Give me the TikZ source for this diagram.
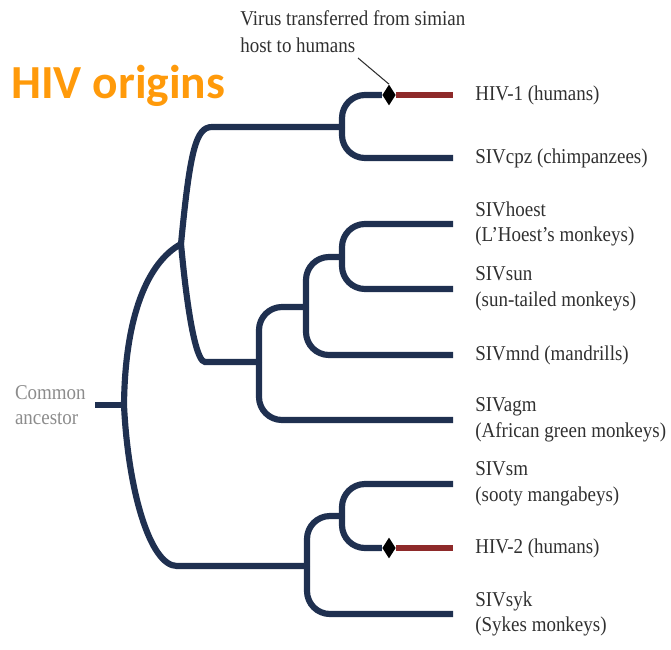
\documentclass[tikz,border=0pt]{standalone}
\usepackage{fontspec}
\setmainfont{Liberation Serif}[FakeStretch=0.9]
\newfontfamily\headfont{Carlito}
\usepackage{xcolor}
\usetikzlibrary{positioning,shapes.geometric}
\definecolor{treeblue}{HTML}{1F3050}
\definecolor{humanred}{HTML}{8E2A2A}
\definecolor{headorange}{HTML}{FF9A0A}
\definecolor{labelgray}{HTML}{303030}
\definecolor{rootgray}{HTML}{8C8C8C}
\tikzset{branch/.style={treeblue,line width=3.5pt,rounded corners=0.46cm},
  human/.style={humanred,line width=3.3pt},
  jump/.style={diamond,fill=black,inner sep=0pt,minimum width=0.27cm,minimum height=0.42cm},
  leaf/.style={labelgray,inner sep=0pt,align=left,font=\fontsize{12}{14.5}\selectfont},
  pointer/.style={labelgray,line width=0.6pt}}

\begin{document}
\begin{tikzpicture}[x=0.02cm,y=-0.02cm]
\useasboundingbox (0,0) rectangle (671,649);
\coordinate (stub) at (95,405); \coordinate (root) at (124,405); \coordinate (A) at (181,244);
\coordinate (C) at (342,127); \coordinate (D) at (259,362); \coordinate (E) at (306,307);
\coordinate (F) at (342,257); \coordinate (G) at (307,566); \coordinate (H) at (342,516);
\coordinate (t1) at (453,95); \coordinate (t2) at (453,158); \coordinate (t3) at (453,224);
\coordinate (t4) at (453,289); \coordinate (t5) at (453,355); \coordinate (t6) at (453,420);
\coordinate (t7) at (453,484); \coordinate (t8) at (453,548); \coordinate (t9) at (453,614);
\node[jump] (j1) at (389,95) {}; \node[jump] (j2) at (389,548) {};
\draw[branch] (stub) -- (root);
\draw[branch] (root) .. controls (125,315) and (148,262) .. (A);
\draw[branch] (root) .. controls (128,490) and (150,566) .. (200,566) -- (G);
\draw[branch] (A) .. controls (190,150) and (196,127) .. (235,127) -- (C);
\draw[branch] (A) .. controls (189,330) and (198,362) .. (228,362) -- (D);
\draw[branch] (C) |- (j1); \draw[human] (j1) -- (t1); \draw[branch] (C) |- (t2);
\draw[branch] (D) |- (E); \draw[branch] (D) |- (t6);
\draw[branch] (E) |- (F); \draw[branch] (E) |- (t5);
\draw[branch] (F) |- (t3); \draw[branch] (F) |- (t4);
\draw[branch] (G) |- (H); \draw[branch] (G) |- (t9);
\draw[branch] (H) |- (t7); \draw[branch] (H) |- (j2); \draw[human] (j2) -- (t8);
\node[leaf,right=0.44cm of t1] (hiv1) {HIV-1 (humans)};
\node[leaf,right=0.44cm of t2] (cpz) {SIVcpz (chimpanzees)};
\node[leaf,right=0.44cm of t3] (hoest) {SIVhoest\\(L’Hoest’s monkeys)};
\node[leaf,right=0.44cm of t4] (sun) {SIVsun\\(sun-tailed monkeys)};
\node[leaf,right=0.44cm of t5] (mnd) {SIVmnd (mandrills)};
\node[leaf,right=0.44cm of t6] (agm) {SIVagm\\(African green monkeys)};
\node[leaf,right=0.44cm of t7] (sm) {SIVsm\\(sooty mangabeys)};
\node[leaf,right=0.44cm of t8] (hiv2) {HIV-2 (humans)};
\node[leaf,right=0.44cm of t9] (syk) {SIVsyk\\(Sykes monkeys)};
\node[leaf,rootgray,left=0.18cm of stub] (anc) {Common\\ancestor};
\node[headorange,inner sep=0pt,anchor=base west,font=\headfont\bfseries\fontsize{27}{30}\selectfont] (title) at (11,98) {HIV origins};
\node[leaf,anchor=north west,font=\fontsize{12}{15.4}\selectfont] (note) at (240,10) {Virus transferred from simian\\host to humans};
\coordinate (notetail) at (358,58);
\draw[pointer] (notetail) -- (j1.north);
\end{tikzpicture}
\end{document}
